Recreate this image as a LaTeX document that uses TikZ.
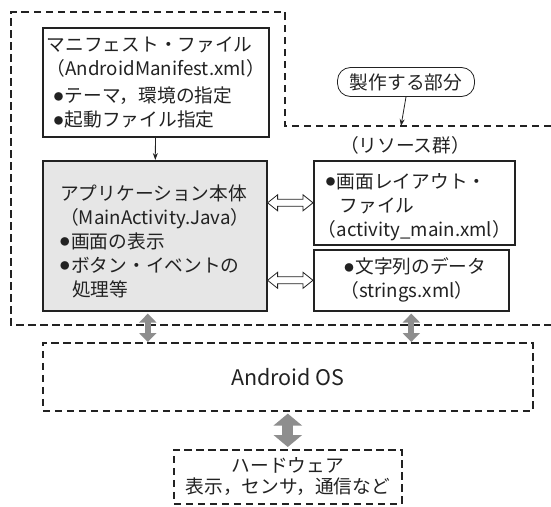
\documentclass[tikz,border=0pt]{standalone}
\usepackage{fontspec}
\setmainfont{Noto Sans CJK JP}
\usetikzlibrary{arrows.meta,calc}
\definecolor{ink}{HTML}{222222}
\definecolor{appfill}{HTML}{E6E6E6}
\definecolor{arrgray}{HTML}{8E8E8E}
\newcommand\bul{\raisebox{0.12em}{\fontsize{9.5pt}{9.5pt}\selectfont ●}\hspace{1.5pt}}
% hollow double arrow between two points on one line
\newcommand\hollowarr[2]{%
  \draw[ink, line width=0.8pt, fill=white] let \p1=(#1), \p2=(#2) in
    (\x1,\y1) -- (\x1+10pt,\y1+8pt) -- (\x1+10pt,\y1+3.5pt) -- (\x2-10pt,\y1+3.5pt)
    -- (\x2-10pt,\y1+8pt) -- (\x2,\y1) -- (\x2-10pt,\y1-8pt) -- (\x2-10pt,\y1-3.5pt)
    -- (\x1+10pt,\y1-3.5pt) -- (\x1+10pt,\y1-8pt) -- cycle;}

\begin{document}
\begin{tikzpicture}[x=1pt, y=-1pt,
    font=\fontsize{18.7pt}{24pt}\selectfont, text=ink,
    box/.style={draw=ink, line width=1.6pt, anchor=north west, align=left,
      inner xsep=4pt, inner ysep=0pt},
    dashbox/.style={draw=ink, line width=1.6pt, dash pattern=on 7.5pt off 4.5pt},
    grayarrow/.style={draw=arrgray, line width=6pt,
      {Triangle[width=17pt,length=9pt]}-{Triangle[width=17pt,length=9pt]}},
    bigarrow/.style={draw=arrgray, line width=11pt,
      {Triangle[width=28pt,length=12pt]}-{Triangle[width=28pt,length=12pt]}}]
    \useasboundingbox (0,0) rectangle (551,506);

    % part that is made
    \draw[dashbox] (551,126) -- (285,126) -- (285,12) -- (11,12)
      -- (11,325) -- (551,325);

    % main boxes
    \node[box, minimum width=225, minimum height=109] (mani) at (42,27)
      {マニフェスト・ファイル\\（AndroidManifest.xml）\\[3pt]
       \hspace{7pt}\bul テーマ，環境の指定\\\hspace{7pt}\bul 起動ファイル指定};
    \node[box, fill=appfill, inner xsep=11pt, minimum width=224,
      minimum height=150] (app) at (42,160)
      {\rule{0pt}{26pt}アプリケーション本体\\（MainActivity.Java）\\
       \hspace{0pt}\bul 画面の表示\\\hspace{0pt}\bul ボタン・イベントの\\
       \hspace{12pt}処理等};

    % resources
    \node (res) at (405,145) {（リソース群）};
    \node[box, minimum width=195, minimum height=84] (layout) at (313,160)
      {\rule{0pt}{23pt}\hspace{8pt}\bul 画面レイアウト・\\\hspace{22pt}ファイル\\（activity\_main.xml）};
    \node[box, minimum width=195, minimum height=61] (strings) at (313,249)
      {\hspace{8pt}\bul 文字列のデータ\\\hspace{4pt}（strings.xml）};

    % label
    \node[draw=ink, line width=0.8pt, rounded corners=13pt, minimum width=137,
      minimum height=29, inner sep=2pt] (part) at (406,82) {製作する部分};
    \coordinate (tip) at (401,126);
    \draw[ink, line width=0.8pt, -{Stealth[length=7pt,width=5pt]}] (part.south) -- (tip);

    % os and hardware
    \node[dashbox, anchor=north west, minimum width=490, minimum height=68,
      font=\fontsize{21.5pt}{24pt}\selectfont] (os) at (42,342) {Android OS};
    \node[dashbox, anchor=north west, minimum width=228, minimum height=54,
      inner sep=0pt, align=center, font=\fontsize{18.7pt}{21pt}\selectfont] (hw)
      at (173,449) {ハードウェア\\表示，センサ，通信など};

    % arrows
    \draw[ink, line width=0.8pt, -{Stealth[length=7pt,width=5pt]}] (mani) -- (app);
    \hollowarr{app.east |- layout.west}{layout.west}
    \hollowarr{app.east |- strings.west}{strings.west}
    \draw[grayarrow] ([xshift=-7pt, yshift=-2pt]app.south)
      -- ([xshift=-7pt]app.south |- os.north);
    \draw[grayarrow] ([yshift=-2pt]strings.south) -- (strings.south |- os.north);
    \draw[bigarrow] ([yshift=-2pt]os.south) -- ([yshift=2pt]hw.north);
\end{tikzpicture}
\end{document}
